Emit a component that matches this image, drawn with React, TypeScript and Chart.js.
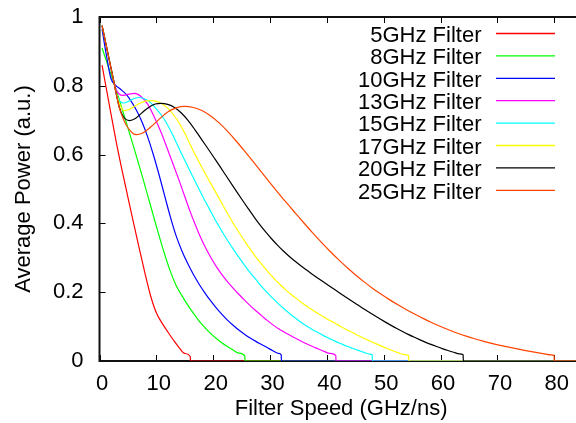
import React, { useEffect, useRef } from "react";
import { Chart, registerables } from "chart.js";

Chart.register(...registerables);

type Pt = [number, number];

const seriesLabels = [
  "5GHz Filter",
  "8GHz Filter",
  "10GHz Filter",
  "13GHz Filter",
  "15GHz Filter",
  "17GHz Filter",
  "20GHz Filter",
  "25GHz Filter",
];

const seriesColors = [
  "#ff0000",
  "#00ff00",
  "#0000ff",
  "#ff00ff",
  "#00ffff",
  "#ffff00",
  "#000000",
  "#ff4500",
];

const filter5GHz: Pt[] = [
  [0.45, 0.86], [1, 0.81], [2, 0.72], [3, 0.632], [4, 0.552], [5, 0.476], [6, 0.401],
  [7, 0.327], [8, 0.255], [9, 0.189], [10, 0.14], [11, 0.11], [12, 0.085], [13, 0.061],
  [14, 0.039], [15, 0.022], [15.97, 0.013], [16, 0], [90, 0],
];

const filter8GHz: Pt[] = [
  [0.45, 0.91], [1.5, 0.858], [2.5, 0.81], [3.5, 0.758], [4.5, 0.705], [5.5, 0.65],
  [6.5, 0.595], [7.5, 0.538], [8.5, 0.48], [9.5, 0.421], [10.5, 0.363], [11.5, 0.308],
  [12.5, 0.259], [13.5, 0.219], [14.5, 0.19], [15.5, 0.163], [16.5, 0.139], [17.5, 0.117],
  [18.5, 0.098], [19.5, 0.081], [20.5, 0.066], [21.5, 0.053], [22.5, 0.042], [23.5, 0.032],
  [24.5, 0.023], [25.57, 0.014], [25.6, 0], [90, 0],
];

const filter10GHz: Pt[] = [
  [0.45, 0.965], [1.2, 0.89], [2.0, 0.822], [2.8, 0.802], [3.7, 0.79], [4.7, 0.775],
  [5.5, 0.757], [6.5, 0.729], [7.5, 0.694], [8.5, 0.65], [9.5, 0.598], [10.5, 0.54],
  [11.5, 0.478], [12.5, 0.417], [13.5, 0.363], [14.5, 0.32], [15.5, 0.284], [16.5, 0.252],
  [17.5, 0.224], [18.5, 0.199], [19.5, 0.176], [20.5, 0.155], [21.5, 0.136], [22.5, 0.119],
  [23.5, 0.104], [24.5, 0.09], [25.5, 0.078], [26.5, 0.067], [27.5, 0.057], [28.5, 0.048],
  [29.5, 0.039], [30.5, 0.03], [31.5, 0.022], [31.97, 0.018], [32, 0], [90, 0],
];

const filter13GHz: Pt[] = [
  [0.45, 0.975], [1.4, 0.9], [2.4, 0.822], [2.9, 0.79], [3.4, 0.777], [4.2, 0.772],
  [5.2, 0.776], [6.2, 0.778], [7.3, 0.769], [8.5, 0.746], [9.7, 0.707], [10.9, 0.662],
  [12, 0.614], [13, 0.57], [14, 0.525], [15, 0.478], [16, 0.432], [16.8, 0.398],
  [17.5, 0.37], [18.5, 0.334], [19.5, 0.303], [20.5, 0.276], [21.5, 0.252], [22.5, 0.231],
  [23.5, 0.212], [24.5, 0.194], [25.5, 0.177], [26.5, 0.161], [27.5, 0.146], [28.5, 0.132],
  [29.5, 0.118], [30.5, 0.105], [31.5, 0.094], [32.5, 0.084], [33.5, 0.075], [34.5, 0.066],
  [35.5, 0.0575], [36.5, 0.0495], [37.5, 0.042], [38.5, 0.035], [39.5, 0.028], [40.5, 0.022],
  [41.57, 0.016], [41.6, 0], [90, 0],
];

const filter15GHz: Pt[] = [
  [0.45, 0.975], [1.4, 0.9], [2.4, 0.822], [3.0, 0.775], [3.6, 0.755], [4.3, 0.75],
  [5.2, 0.756], [6.1, 0.763], [7.0, 0.766], [8.5, 0.757], [10.0, 0.733], [11.5, 0.7],
  [12.8, 0.66], [14.1, 0.614], [16.2, 0.543], [18.2, 0.477], [19.3, 0.443], [20.4, 0.409],
  [21.5, 0.378], [22.5, 0.351], [23.5, 0.326], [24.5, 0.302], [25.5, 0.279], [26.5, 0.257],
  [27.5, 0.237], [28.5, 0.217], [29.5, 0.199], [30.5, 0.182], [31.5, 0.166], [32.5, 0.151],
  [33.6, 0.136], [34.5, 0.124], [35.5, 0.112], [36.5, 0.101], [37.5, 0.091], [38.5, 0.082],
  [39.5, 0.073], [40.5, 0.065], [41.5, 0.057], [42.5, 0.05], [43.5, 0.043], [44.5, 0.037],
  [45.5, 0.031], [46.5, 0.025], [47.5, 0.02], [47.97, 0.018], [48, 0], [90, 0],
];

const filter17GHz: Pt[] = [
  [0.45, 0.975], [1.4, 0.9], [2.4, 0.822], [3.0, 0.775], [3.6, 0.745], [4.3, 0.728],
  [5.2, 0.731], [6.2, 0.741], [7.2, 0.75], [8.2, 0.756], [9.2, 0.757], [10.5, 0.752],
  [12, 0.735], [13.5, 0.705], [15, 0.663], [16.3, 0.617], [18.5, 0.548], [20.8, 0.48],
  [21.8, 0.45], [22.8, 0.421], [23.8, 0.393], [24.8, 0.367], [25.8, 0.342], [26.8, 0.3185],
  [27.8, 0.296], [28.8, 0.276], [29.8, 0.256], [30.8, 0.238], [31.8, 0.2215], [32.8, 0.206],
  [33.6, 0.195], [34.6, 0.182], [35.6, 0.1695], [36.6, 0.158], [37.6, 0.147], [38.6, 0.1365],
  [39.6, 0.1266], [40.6, 0.117], [41.6, 0.108], [42.6, 0.099], [43.6, 0.09], [44.6, 0.082],
  [45.6, 0.0735], [46.6, 0.0656], [47.6, 0.058], [48.6, 0.0505], [49.6, 0.0433], [50.6, 0.0363],
  [51.6, 0.0298], [52.6, 0.0238], [53.6, 0.0187], [54.37, 0.0155], [54.4, 0], [90, 0],
];

const filter20GHz: Pt[] = [
  [0.45, 0.975], [1.4, 0.9], [2.4, 0.822], [3.0, 0.772], [3.5, 0.737], [4.2, 0.71],
  [5.3, 0.699], [6.3, 0.705], [7.5, 0.722], [8.7, 0.738], [9.8, 0.747], [10.8, 0.749],
  [12, 0.746], [13.2, 0.737], [14.4, 0.721], [15.6, 0.699], [16.8, 0.672], [18, 0.643],
  [19.3, 0.612], [20.3, 0.5875], [21.3, 0.5627], [22.3, 0.5377], [23.3, 0.5128], [24.3, 0.4881],
  [25.3, 0.4637], [26.3, 0.4399], [27.3, 0.4163], [28.3, 0.3941], [29.3, 0.3736], [30.3, 0.3546],
  [31.3, 0.3369], [32.3, 0.3204], [33.3, 0.3052], [34.3, 0.2912], [35.3, 0.2781], [36.3, 0.2657],
  [37.3, 0.2538], [38.3, 0.2422], [39.3, 0.2308], [40.3, 0.2195], [41.3, 0.2083], [42.3, 0.1972],
  [43.3, 0.1862], [44.3, 0.1752], [45.3, 0.1643], [46.3, 0.1535], [47.3, 0.143], [48.3, 0.1327],
  [49.3, 0.1227], [50.3, 0.113], [51.3, 0.1036], [52.3, 0.0945], [53.3, 0.0858], [54.3, 0.0775],
  [55.3, 0.0696], [56.3, 0.0621], [57.3, 0.055], [58.3, 0.0483], [59.3, 0.042], [60.3, 0.0361],
  [61.3, 0.0306], [62.3, 0.0255], [63.3, 0.0208], [63.97, 0.0179], [64, 0], [90, 0],
];

const filter25GHz: Pt[] = [
  [0.45, 0.975], [1.4, 0.9], [2.4, 0.822], [3.0, 0.772], [3.5, 0.735], [4.2, 0.703],
  [5.0, 0.678], [5.8, 0.663], [6.5, 0.658], [7.5, 0.662], [9.0, 0.68], [10.5, 0.703],
  [12.0, 0.724], [13.5, 0.736], [15.0, 0.74], [16.5, 0.737], [18.0, 0.728], [19.5, 0.7132],
  [21.0, 0.6928], [22.5, 0.6681], [24.0, 0.6403], [25.5, 0.6106], [27.0, 0.58], [28.5, 0.5488],
  [30.0, 0.5179], [31.5, 0.4876], [33.0, 0.4579], [34.5, 0.4291], [36.0, 0.4004], [37.5, 0.3725],
  [39.0, 0.3455], [40.5, 0.3199], [42.0, 0.2956], [43.5, 0.2725], [45.0, 0.2508], [46.5, 0.2307],
  [48.0, 0.2118], [49.5, 0.1946], [51.0, 0.1784], [52.5, 0.1633], [54.0, 0.1491], [55.5, 0.1358],
  [57.0, 0.1232], [58.5, 0.1114], [60.0, 0.1003], [61.5, 0.0901], [63.0, 0.0808], [64.5, 0.0724],
  [66.0, 0.0648], [67.5, 0.0578], [69.0, 0.0514], [70.5, 0.0456], [72.0, 0.0402], [73.5, 0.0351],
  [75.0, 0.0303], [76.5, 0.0258], [78.0, 0.0216], [79.5, 0.0176], [79.97, 0.0163], [80, 0], [90, 0],
];

const seriesData: Pt[][] = [
  filter5GHz, filter8GHz, filter10GHz, filter13GHz,
  filter15GHz, filter17GHz, filter20GHz, filter25GHz,
];

const xTicks = [0, 10, 20, 30, 40, 50, 60, 70, 80];
const yTicks = [0, 0.2, 0.4, 0.6, 0.8, 1];
const xAxisMax = 85;
const xTitle = "Filter Speed (GHz/ns)";
const yTitle = "Average Power (a.u.)";

const FONT = "'Liberation Sans', Arial, Helvetica, sans-serif";

const framePlugin = {
  id: "gnuFrame",
  beforeDatasetsDraw(chart: any) {
    const { ctx, chartArea: a, scales } = chart;
    ctx.save();
    ctx.strokeStyle = "#000";
    ctx.lineWidth = 1;
    ctx.beginPath();
    for (const v of xTicks) {
      const px = Math.round(scales.x.getPixelForValue(v)) + 0.5;
      ctx.moveTo(px, a.bottom);
      ctx.lineTo(px, a.bottom - 6);
      ctx.moveTo(px, a.top);
      ctx.lineTo(px, a.top + 6);
    }
    for (const v of yTicks) {
      const py = Math.round(scales.y.getPixelForValue(v)) + 0.5;
      ctx.moveTo(a.left, py);
      ctx.lineTo(a.left + 6, py);
      ctx.moveTo(a.right, py);
      ctx.lineTo(a.right - 6, py);
    }
    ctx.stroke();
    ctx.lineWidth = 2;
    ctx.strokeStyle = "#111";
    ctx.strokeRect(a.left, a.top, a.right - a.left, a.bottom - a.top);
    ctx.restore();
  },
};

const legendPlugin = {
  id: "gnuLegend",
  afterDraw(chart: any) {
    const { ctx } = chart;
    const textRight = 481.5;
    const lineStart = 496;
    const lineEnd = 555;
    const firstLineY = 33.5;
    const rowStep = 22.4;
    ctx.save();
    ctx.font = `22px ${FONT}`;
    ctx.textAlign = "right";
    ctx.textBaseline = "alphabetic";
    chart.data.datasets.forEach((ds: any, i: number) => {
      const y = firstLineY + rowStep * i;
      ctx.fillStyle = "#000";
      ctx.fillText(ds.label, textRight, y + 8.2);
      ctx.strokeStyle = ds.borderColor;
      ctx.lineWidth = 1.3;
      ctx.beginPath();
      ctx.moveTo(lineStart, y);
      ctx.lineTo(lineEnd, y);
      ctx.stroke();
    });
    ctx.restore();
  },
};

export default function App() {
  const canvasRef = useRef<HTMLCanvasElement | null>(null);

  useEffect(() => {
    if (!canvasRef.current) return;
    const n = seriesData.length;
    const chart = new Chart(canvasRef.current, {
      type: "line",
      data: {
        datasets: seriesData.map((pts, i) => ({
          label: seriesLabels[i],
          data: pts.map(([x, y]) => ({ x, y })),
          borderColor: seriesColors[i],
          backgroundColor: seriesColors[i],
          borderWidth: 1.2,
          pointRadius: 0,
          fill: false,
          cubicInterpolationMode: "monotone" as const,
          order: n - i,
        })),
      },
      options: {
        animation: false,
        responsive: false,
        devicePixelRatio: 1,
        layout: { padding: { left: 0, top: 17, right: 17.3, bottom: 0 } },
        plugins: {
          legend: { display: false },
          tooltip: { enabled: false },
        },
        scales: {
          x: {
            type: "linear",
            min: 0,
            max: xAxisMax,
            grid: { display: false, drawTicks: false },
            border: { display: false },
            afterBuildTicks: (s: any) => {
              s.ticks = xTicks.map((v) => ({ value: v }));
            },
            afterFit: (s: any) => {
              s.height = 62;
              s.paddingLeft = 0;
              s.paddingRight = 0;
            },
            ticks: {
              font: { family: FONT, size: 22 },
              color: "#000",
              padding: 10,
              labelOffset: 2.5,
              maxRotation: 0,
              autoSkip: false,
              callback: (v: any) => String(v),
            },
            title: {
              display: true,
              text: xTitle,
              font: { family: FONT, size: 22 },
              color: "#000",
              padding: { top: 0, bottom: 1 },
            },
          },
          y: {
            type: "linear",
            min: 0,
            max: 1,
            grid: { display: false, drawTicks: false },
            border: { display: false },
            afterBuildTicks: (s: any) => {
              s.ticks = yTicks.map((v) => ({ value: v }));
            },
            afterFit: (s: any) => {
              s.width = 99.5;
              s.paddingTop = 0;
              s.paddingBottom = 0;
            },
            ticks: {
              font: { family: FONT, size: 22 },
              color: "#000",
              padding: 16,
              autoSkip: false,
              callback: (v: any) => String(v),
            },
            title: {
              display: true,
              text: yTitle,
              font: { family: FONT, size: 22 },
              color: "#000",
              padding: { top: 11, bottom: 0 },
            },
          },
        },
      },
      plugins: [framePlugin, legendPlugin],
    });
    return () => chart.destroy();
  }, []);

  return (
    <div
      style={{
        position: "fixed",
        left: 0,
        top: 0,
        width: 576,
        height: 423,
        overflow: "hidden",
        background: "#fff",
      }}
    >
      <canvas ref={canvasRef} width={600} height={423} style={{ display: "block" }} />
    </div>
  );
}
